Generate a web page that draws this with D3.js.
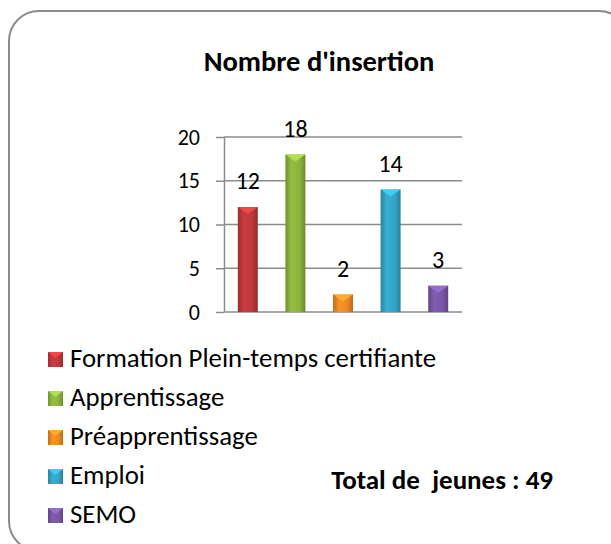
<!DOCTYPE html>
<html>
<head>
<meta charset="utf-8">
<script src="https://cdn.jsdelivr.net/npm/d3@7"></script>
<style>
  body { margin: 0; background: #fff; }
  svg { display: block; font-family: Calibri, Carlito, Lato, sans-serif; }
</style>
</head>
<body>
<svg></svg>
<script>
const width = 611
const height = 544

// data
const categories = ["Formation Plein-temps certifiante", "Apprentissage", "Préapprentissage", "Emploi", "SEMO"]
const values = [12, 18, 2, 14, 3]
const colors = ["#C0393B", "#8DB43E", "#EE8A24", "#32A6C4", "#7A58A6"]
const yTicks = [0, 5, 10, 15, 20]
const title = "Nombre d'insertion"
const totalLabel = "Total de  jeunes : 49"

const svg = d3.select('svg')
  .attr('width', width)
  .attr('height', height)

const defs = svg.append("defs")
colors.forEach((c, i) => {
  const g = defs.append("linearGradient").attr("id", "grad" + i)
    .attr("x1", "0%").attr("x2", "100%").attr("y1", "0%").attr("y2", "0%")
  g.append("stop").attr("offset", "0%").attr("stop-color", d3.color(c).darker(0.6))
  g.append("stop").attr("offset", "30%").attr("stop-color", d3.color(c).brighter(0.15))
  g.append("stop").attr("offset", "70%").attr("stop-color", c)
  g.append("stop").attr("offset", "100%").attr("stop-color", d3.color(c).darker(0.7))
})

// frame
svg.append("rect")
  .attr("x", 9).attr("y", 11)
  .attr("width", 620).attr("height", 540)
  .attr("rx", 30).attr("ry", 30)
  .attr("fill", "#fff")
  .attr("stroke", "#8c8c8c")
  .attr("stroke-width", 2)

svg.append("text")
  .attr("x", 319).attr("y", 71)
  .attr("text-anchor", "middle")
  .attr("font-weight", "bold")
  .attr("font-size", 28.5)
  .text(title)

const x = d3.scaleBand()
  .domain(categories)
  .range([224, 462])
  .paddingInner(0.58)
  .paddingOuter(0.29)

const y = d3.scaleLinear()
  .domain([0, 20])
  .range([312, 137])

// grid
svg.append("g")
  .selectAll("line")
  .data(yTicks)
  .enter()
  .append("line")
  .attr("x1", 224).attr("x2", 462)
  .attr("y1", d => y(d)).attr("y2", d => y(d))
  .attr("stroke", "#8c8c8c")
  .attr("stroke-width", 1.5)

const yAxis = svg.append("g")
  .attr("transform", "translate(224,0)")
  .call(d3.axisLeft(y).tickValues(yTicks).tickSize(8).tickSizeOuter(0).tickPadding(16))
yAxis.select(".domain").attr("stroke", "#8c8c8c").attr("stroke-width", 1.5)
yAxis.selectAll(".tick line").attr("stroke", "#8c8c8c").attr("stroke-width", 1.5)
yAxis.selectAll(".tick text")
  .attr("font-size", 22)
  .attr("fill", "#000")
  .style("font-family", "Calibri, Carlito, Lato, sans-serif")

// bars
const bars = svg.append("g")
  .selectAll("g")
  .data(categories)
  .enter()
  .append("g")

bars.append("rect")
  .attr("x", d => x(d))
  .attr("y", (d, i) => y(values[i]))
  .attr("width", x.bandwidth())
  .attr("height", (d, i) => y(0) - y(values[i]))
  .attr("fill", (d, i) => "url(#grad" + i + ")")

bars.append("path")
  .attr("d", (d, i) => {
    const x0 = x(d), x1 = x(d) + x.bandwidth(), t = y(values[i])
    return `M${x0},${t}L${x1},${t}L${(x0 + x1) / 2},${t + 7}Z`
  })
  .attr("fill", (d, i) => d3.color(colors[i]).brighter(0.6))

bars.append("text")
  .attr("x", d => x(d) + x.bandwidth() / 2)
  .attr("y", (d, i) => y(values[i]) - 18)
  .attr("text-anchor", "middle")
  .attr("font-size", 24)
  .text((d, i) => values[i])

// legend
const legend = svg.append("g")
  .selectAll("g")
  .data(categories)
  .enter()
  .append("g")
  .attr("transform", (d, i) => `translate(48,${367 + i * 39})`)

legend.append("rect")
  .attr("x", 0).attr("y", -15)
  .attr("width", 15).attr("height", 15)
  .attr("fill", (d, i) => "url(#grad" + i + ")")

legend.append("path")
  .attr("d", "M0,-15L15,-15L7.5,-9Z")
  .attr("fill", (d, i) => d3.color(colors[i]).brighter(0.6))

legend.append("text")
  .attr("x", 22).attr("y", 0)
  .attr("font-size", 26.8)
  .text(d => d)

svg.append("text")
  .attr("x", 553).attr("y", 489)
  .attr("text-anchor", "end")
  .attr("font-weight", "bold")
  .attr("font-size", 27)
  .style("white-space", "pre")
  .text(totalLabel)
</script>
</body>
</html>
